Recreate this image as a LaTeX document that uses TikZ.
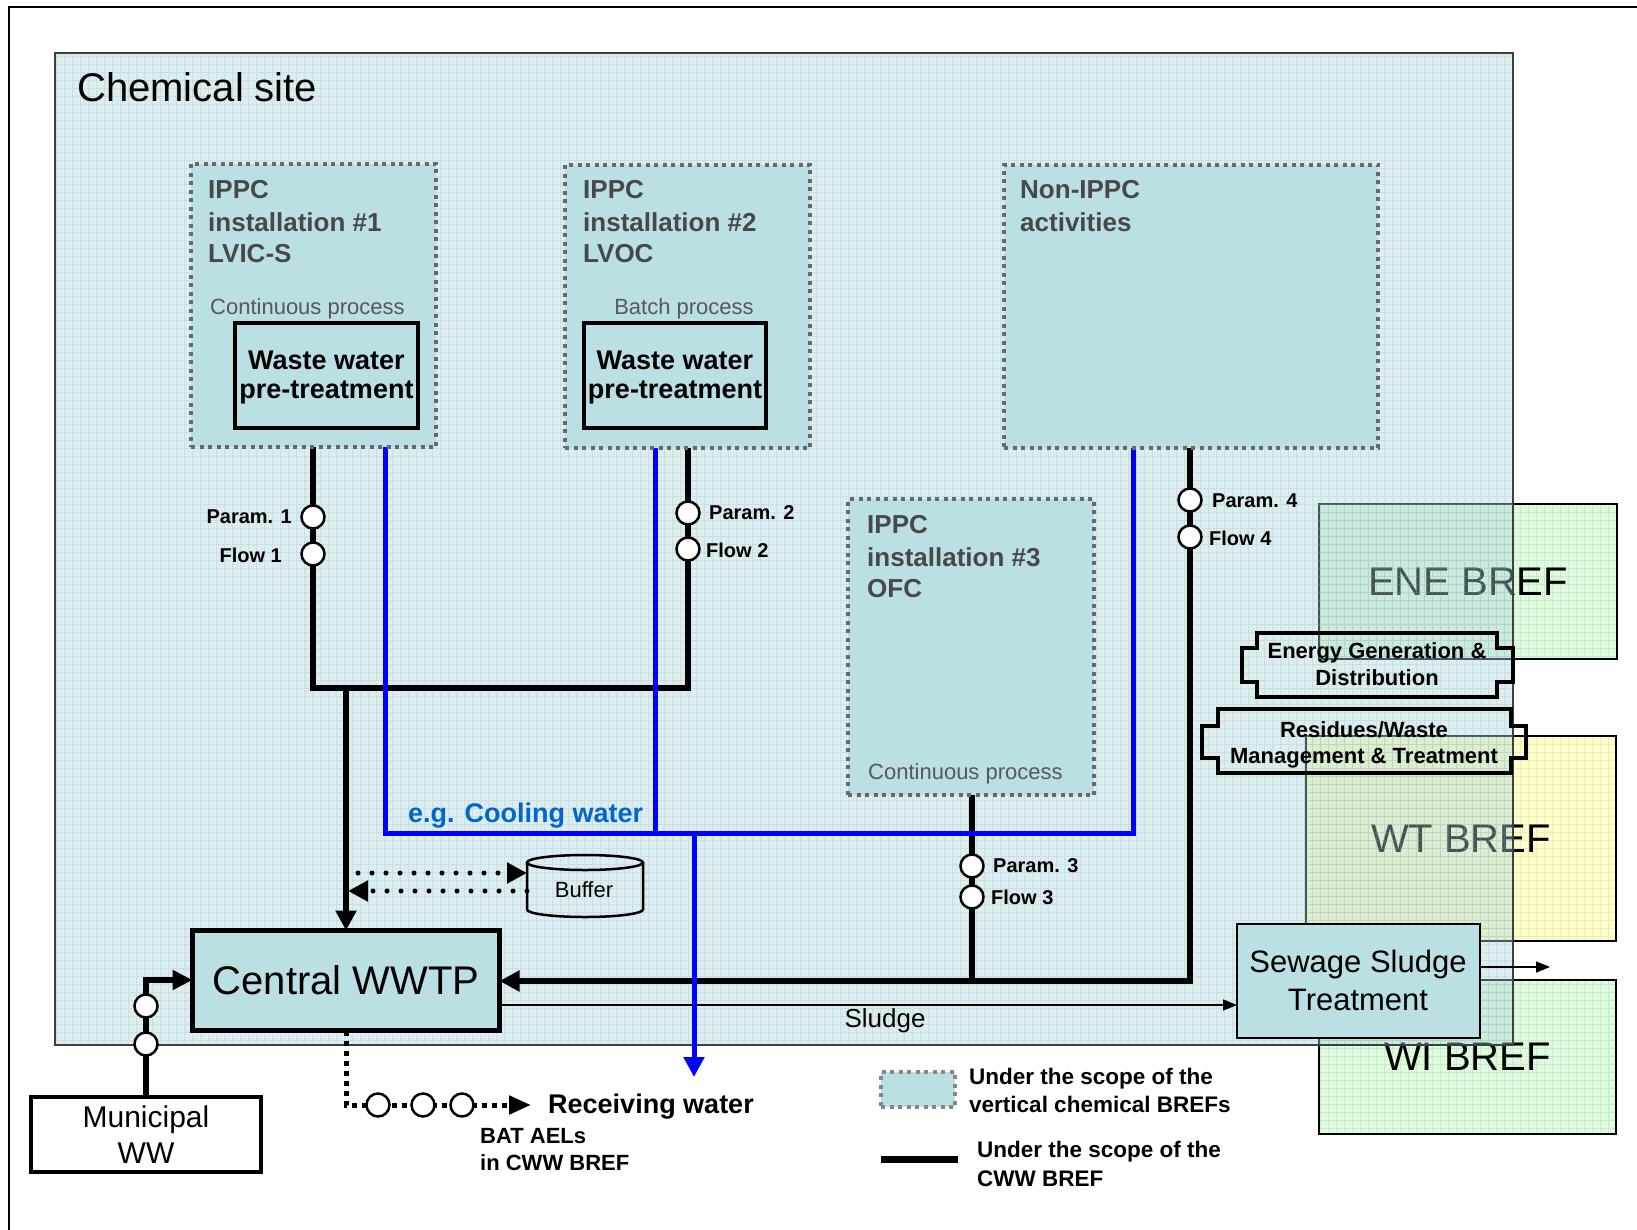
\documentclass[tikz,border=0pt]{standalone}
\usepackage{fontspec}
\setmainfont{Liberation Sans}
\usetikzlibrary{arrows.meta}
\pgfdeclarelayer{back}
\pgfdeclarelayer{wires}
\pgfsetlayers{back,wires,main}
\definecolor{teal1}{RGB}{187,224,228}
\definecolor{sitec}{RGB}{172,212,217}
\definecolor{gridc}{RGB}{120,180,190}
\definecolor{breg}{RGB}{224,250,224}
\definecolor{bregrid}{RGB}{200,236,200}
\definecolor{brey}{RGB}{255,255,204}
\definecolor{breygrid}{RGB}{236,236,180}
\definecolor{txtgray}{RGB}{72,72,72}
\definecolor{procgray}{RGB}{88,88,88}
\definecolor{cwblue}{RGB}{0,102,204}
\definecolor{dotgray}{RGB}{105,105,105}
\begin{document}
\begin{tikzpicture}[x=1pt,y=-1pt,
  tl/.style={inner sep=0pt, anchor=base west},
  tc/.style={inner sep=0pt, anchor=base},
  tr/.style={inner sep=0pt, anchor=base east},
  box/.style={inner sep=0pt, outer sep=0pt},
  instbox/.style={box, fill=teal1, draw=dotgray, line width=3.5pt, dash pattern=on 4pt off 4.5pt},
  wwbox/.style={box, fill=teal1, draw=black, line width=4.5pt},
  bref/.style={box, draw=black, line width=2.5pt, font=\fontsize{40}{40}\selectfont},
  gauge/.style={circle, draw=black, fill=white, line width=2.5pt, inner sep=0pt, minimum size=23pt},
  cww/.style={line width=6pt, black},
  cool/.style={line width=5pt, blue},
  bigtip/.style={-{Triangle[length=20pt,width=20pt]}},
  smalltip/.style={-{Triangle[length=14pt,width=11pt]}},
  dotline/.style={line width=5pt, dash pattern=on 0pt off 14pt, line cap=round},
  dashline/.style={line width=5pt, dash pattern=on 5pt off 5pt},
  ititle/.style={tl, font=\fontsize{26}{26}\selectfont\bfseries, text=txtgray},
  iproc/.style={font=\fontsize{22}{22}\selectfont, text=procgray},
  wwtext/.style={tc, font=\fontsize{27}{27}\selectfont\bfseries},
  plabel/.style={font=\fontsize{20}{20}\selectfont\bfseries},
  shapetext/.style={tc, font=\fontsize{22}{22}\selectfont\bfseries},
  legtext/.style={tl, font=\fontsize{22.5}{22.5}\selectfont\bfseries},
  shapeline/.style={line width=3.5pt, black}
]
\useasboundingbox (0,0) rectangle (1637,1230);

% ---------------- background layer ----------------
\begin{pgfonlayer}{back}
\fill[white] (0,0) rectangle (1637,1230);
\draw[line width=2pt] (9,1230) -- (9,7) -- (1637,7);
% BREF boxes
\fill[breg] (1319,504) rectangle (1617,659);
\draw[bregrid, line width=0.6pt, step=8pt] (1319,659) grid (1617,504);
\node[bref, minimum width=298pt, minimum height=155pt] (ene) at (1468,581.5) {ENE BREF};
\fill[brey] (1306,736) rectangle (1616,941);
\draw[breygrid, line width=0.6pt, step=8pt] (1306,941) grid (1616,736);
\node[bref, minimum width=310pt, minimum height=205pt] (wt) at (1461,838.5) {WT BREF};
\fill[breg] (1319,980) rectangle (1616,1134);
\draw[bregrid, line width=0.6pt, step=8pt] (1319,1134) grid (1616,980);
\node[bref, minimum width=297pt, minimum height=154pt] (wi) at (1467.5,1057) {WI BREF};
% chemical site (semi transparent)
\node[box, fill=sitec, fill opacity=0.4, minimum width=1458pt, minimum height=992pt] (site) at (784,549) {};
\draw[gridc, line width=0.6pt, opacity=0.22, step=8pt] (55,1045) grid (1513,53);
\draw[line width=1.5pt, black!75] (site.north west) rectangle (site.south east);
\end{pgfonlayer}

\node[tl, font=\fontsize{40}{40}\selectfont] (sitelbl) at (77,102) {Chemical site};

% ---------------- installations ----------------
\node[instbox, minimum width=245pt, minimum height=283pt] (inst1) at (313.5,305.5) {};
\node[ititle] (i1a) at (208,199) {IPPC};
\node[ititle] (i1b) at (208,232) {installation \#1};
\node[ititle] (i1c) at (208,263) {LVIC-S};
\node[tl, iproc] (i1p) at (210,315) {Continuous process};
\node[wwbox, minimum width=183pt, minimum height=105pt] (ww1) at (326.5,375.5) {};
\node[wwtext] (ww1a) at (326.5,369) {Waste water};
\node[wwtext] (ww1b) at (326.5,398) {pre-treatment};

\node[instbox, minimum width=245pt, minimum height=283pt] (inst2) at (687.5,306.5) {};
\node[ititle] (i2a) at (583,199) {IPPC};
\node[ititle] (i2b) at (583,232) {installation \#2};
\node[ititle] (i2c) at (583,263) {LVOC};
\node[tc, iproc] (i2p) at (684,315) {Batch process};
\node[wwbox, minimum width=182pt, minimum height=105pt] (ww2) at (675,375.5) {};
\node[wwtext] (ww2a) at (675,369) {Waste water};
\node[wwtext] (ww2b) at (675,398) {pre-treatment};

\node[instbox, minimum width=374pt, minimum height=283pt] (nonippc) at (1191,306.5) {};
\node[ititle] (n1a) at (1020,199) {Non-IPPC};
\node[ititle] (n1b) at (1020,232) {activities};

\node[instbox, minimum width=246pt, minimum height=296pt] (inst3) at (971,647) {};
\node[ititle] (i3a) at (867,533) {IPPC};
\node[ititle] (i3b) at (867,566) {installation \#3};
\node[ititle] (i3c) at (867,597) {OFC};
\node[tl, iproc] (i3p) at (868,779) {Continuous process};

% ---------------- treatment nodes ----------------
\node[box, fill=teal1, draw=black, line width=5pt, minimum width=307pt, minimum height=100pt,
      font=\fontsize{40}{40}\selectfont] (wwtp) at (346,980.5) {Central WWTP};
\node[box, fill=white, draw=black, line width=4.5pt, minimum width=230pt, minimum height=75pt] (muni) at (146,1134.5) {};
\node[tc, font=\fontsize{30}{30}\selectfont] (munia) at (146,1127) {Municipal};
\node[tc, font=\fontsize{30}{30}\selectfont] (munib) at (146,1163) {WW};
\node[box, fill=teal1, draw=black, line width=2pt, minimum width=243pt, minimum height=114pt] (sst) at (1358.5,981) {};
\node[tc, font=\fontsize{31}{31}\selectfont] (ssta) at (1358,972) {Sewage Sludge};
\node[tc, font=\fontsize{31}{31}\selectfont] (sstb) at (1358,1010) {Treatment};

% buffer tank
\node[box, minimum width=116pt, minimum height=62pt] (buffer) at (585,886) {};
\draw[line width=2.5pt] (buffer.north) ++(0,7.5) ellipse [x radius=58pt, y radius=7.5pt];
\draw[line width=2.5pt] ([yshift=-7.5pt]buffer.north west) -- ([yshift=7.5pt]buffer.south west)
  arc[start angle=180, end angle=360, x radius=58pt, y radius=7.5pt] -- ([yshift=-7.5pt]buffer.north east);
\node[tc, font=\fontsize{22}{22}\selectfont] (bufferlbl) at (584,897) {Buffer};

% energy / residues shapes
\coordinate (energy) at (1377,665);
\draw[shapeline] (1257,633) -- (1497,633) -- (1497,648) -- (1513,648) -- (1513,682) -- (1497,682)
  -- (1497,697) -- (1257,697) -- (1257,682) -- (1242,682) -- (1242,648) -- (1257,648) -- cycle;
\node[shapetext] (ena) at (1377,658) {Energy Generation \&};
\node[shapetext] (enb) at (1377,685) {Distribution};
\coordinate (residues) at (1364,741);
\draw[shapeline] (1218,709) -- (1511,709) -- (1511,726) -- (1526,726) -- (1526,758) -- (1511,758)
  -- (1511,773) -- (1218,773) -- (1218,758) -- (1202,758) -- (1202,726) -- (1218,726) -- cycle;
\node[shapetext] (rsa) at (1364,737) {Residues/Waste};
\node[shapetext] (rsb) at (1364,763) {Management \& Treatment};

% ---------------- labels ----------------
\node[tl, font=\fontsize{27}{27}\selectfont\bfseries, text=cwblue] (cwlbl) at (408,822) {e.g. Cooling water};
\node[tc, font=\fontsize{26}{26}\selectfont] (sludgelbl) at (885,1027) {Sludge};
\node[tl, font=\fontsize{27}{27}\selectfont\bfseries] (rwlbl) at (548,1113) {Receiving water};
\node[tl, font=\fontsize{22}{22}\selectfont\bfseries] (bat1) at (480,1143) {BAT AELs};
\node[tl, font=\fontsize{22}{22}\selectfont\bfseries] (bat2) at (480,1170) {in CWW BREF};

\node[tr, plabel] (lp1) at (292,523) {Param. 1};
\node[tr, plabel] (lf1) at (282,562) {Flow 1};
\node[tl, plabel] (lp2) at (709,519) {Param. 2};
\node[tl, plabel] (lf2) at (706,557) {Flow 2};
\node[tl, plabel] (lp3) at (993,872) {Param. 3};
\node[tl, plabel] (lf3) at (991,904) {Flow 3};
\node[tl, plabel] (lp4) at (1212,507) {Param. 4};
\node[tl, plabel] (lf4) at (1209,545) {Flow 4};

% legend
\node[box, fill=teal1, draw=dotgray!80, line width=4pt, dash pattern=on 4pt off 4.5pt,
      minimum width=74pt, minimum height=35pt] (legbox) at (918,1089.5) {};
\node[legtext] (lega) at (969,1084) {Under the scope of the};
\node[legtext] (legb) at (969,1112) {vertical chemical BREFs};
\coordinate (leg1) at (881,1159);
\coordinate (leg2) at (958,1159);
\draw[line width=7pt] (leg1) -- (leg2);
\node[legtext] (legc) at (977,1157) {Under the scope of the};
\node[legtext] (legd) at (977,1186) {CWW BREF};

% ---------------- gauges ----------------
\node[gauge] (p1) at (313,517) {};
\node[gauge] (f1) at (313,554) {};
\node[gauge] (p2) at (688,513) {};
\node[gauge] (f2) at (688,549) {};
\node[gauge] (p3) at (972,866) {};
\node[gauge] (f3) at (972,897) {};
\node[gauge] (p4) at (1190,500) {};
\node[gauge] (f4) at (1190,537) {};
\node[gauge] (m1g) at (146,1006) {};
\node[gauge] (m2g) at (146,1044) {};
\node[gauge] (r1g) at (378,1105) {};
\node[gauge] (r2g) at (423,1105) {};
\node[gauge] (r3g) at (462,1105) {};

% ---------------- connectors ----------------
\coordinate (j1) at (313,688);
\coordinate (j2) at (688,688);
\coordinate (j3) at (346,688);
\coordinate (j4) at (972,981);
\coordinate (j5) at (1190,981);
\coordinate (mj) at (146,980);
\coordinate (bd1) at (358,873);
\coordinate (bd2) at (348,891);
\coordinate (rj) at (346,1105);
\coordinate (rend) at (531,1105);
\coordinate (sl) at (700,1005);
\coordinate (sout) at (1550,967);
\coordinate (b2) at (385,833);
\coordinate (b3) at (1133,833);
\coordinate (b6) at (655,833);
\coordinate (b7) at (694,833);
\coordinate (rw) at (694,1077);

\begin{pgfonlayer}{wires}
\draw[cww] (inst1.south -| j1) -- (j1) -- (j2) -- (inst2.south -| j2);
\draw[cww, bigtip] (j3) -- (wwtp.north);
\draw[cww] (inst3.south -| j4) -- (j4);
\draw[cww, bigtip] (nonippc.south -| j5) -- (j5) -- (wwtp.east |- j5);
\draw[line width=6pt, -{Triangle[length=20pt,width=19pt]}] (muni.north) -- (mj) -- (wwtp.west |- mj);
\draw[dotline, bigtip] (bd1) -- (buffer.west |- bd1);
\draw[dotline, bigtip] (buffer.west |- bd2) -- (bd2);
\draw[dashline, -{Triangle[length=22pt,width=18pt]}] (wwtp.south) -- (rj) -- (rend);
\draw[line width=1.5pt, smalltip] (wwtp.east |- sl) -- (sst.west |- sl);
\draw[line width=1.5pt, smalltip] (sst.east |- sout) -- (sout);
\draw[cool] (inst1.south -| b2) -- (b2) -- (b3) -- (nonippc.south -| b3);
\draw[cool] (inst2.south -| b6) -- (b6);
\draw[cool, bigtip] (b7) -- (rw);
\end{pgfonlayer}
\end{tikzpicture}
\end{document}
